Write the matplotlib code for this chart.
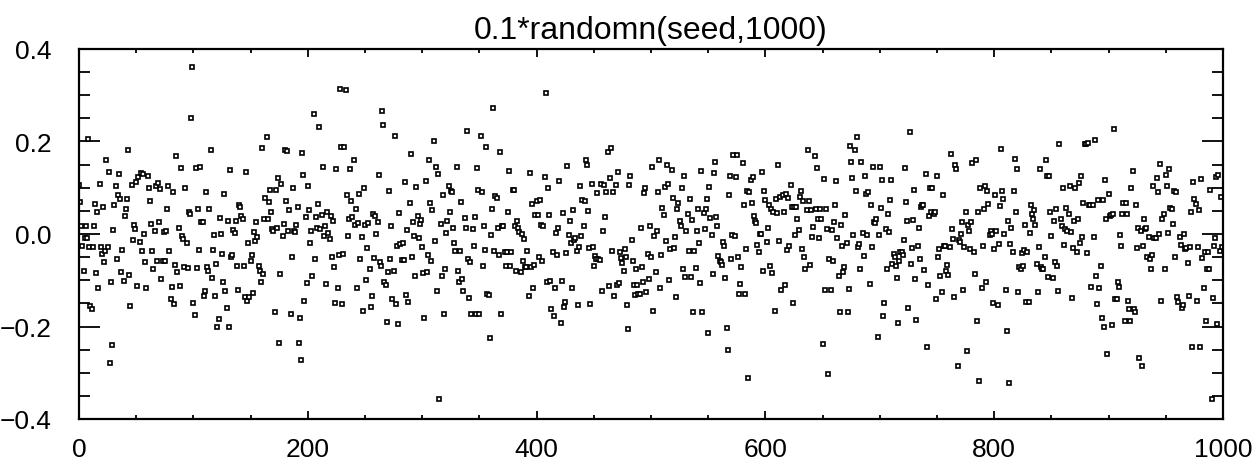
import matplotlib
matplotlib.use("Agg")
import matplotlib.pyplot as plt
import numpy as np
from matplotlib.ticker import MultipleLocator

# values, in order of index (12 strips of the x axis)
seg01 = [0.106, 0.070, 0.018, -0.025, -0.080, -0.009, 0.017, -0.009, 0.206, -0.029,
         -0.155, -0.163, -0.029, 0.017, 0.065, -0.085, 0.047, -0.116, 0.108, -0.029,
         -0.044, 0.058, -0.061, -0.036, 0.159, -0.029, 0.134, -0.279, -0.103, -0.240,
         0.009, 0.062, 0.104, -0.055, 0.084, 0.130, 0.075, -0.083, -0.034, -0.101,
         0.039, 0.053, 0.075, 0.181, -0.088, -0.155, 0.106, -0.014, 0.020, 0.011,
         0.113, -0.112, 0.123, -0.018, 0.131, -0.036, 0.130, 0.001, -0.061, -0.116]
seg02 = [0.126, 0.100, 0.072, 0.022, -0.036, -0.076,
         0.007, 0.104, -0.058, 0.111, 0.027, 0.098, -0.097, -0.058,
         0.005, -0.058, 0.007, 0.053, 0.104, -0.036, -0.141,
         -0.114, 0.090, -0.151, -0.066, 0.168, -0.083, 0.014,
         -0.112, 0.142, -0.004, -0.010, -0.072, 0.100, -0.019, -0.074, 0.047,
         0.043, 0.251, 0.361, -0.150, -0.175, 0.142, -0.073,
         0.054, -0.034, 0.145, 0.027, 0.026, -0.135, -0.124, 0.090,
         -0.072, -0.080, 0.054, 0.182, -0.095, -0.034,
         -0.002, -0.133, -0.065, -0.200, -0.184, 0.034, 0.000, -0.044, -0.103,
         0.086, -0.123, -0.160, 0.029, -0.200, 0.139, -0.050,
         -0.046, 0.009, 0.003, 0.029, -0.069, -0.122, 0.062, 0.058, 0.039, 0.032]
seg03 = [-0.069, -0.137, 0.135, -0.144, -0.019, -0.137, -0.058, -0.045, -0.127, 0.005,
         -0.016, 0.027, -0.007, -0.069, -0.080, -0.103, 0.187, -0.086, 0.032, 0.077,
         0.209, 0.032, 0.070, 0.096, 0.047, 0.011, 0.007, -0.169, 0.096, 0.014,
         0.120, -0.236, -0.086, 0.108, -0.004, 0.022, 0.181, 0.072, 0.179, 0.007,
         0.051, -0.174, -0.050, 0.100, 0.007, 0.005, 0.020, 0.059, -0.236, -0.181,
         -0.272, 0.175, 0.128, -0.144, 0.036, -0.105, 0.104, 0.052, -0.019, 0.006,
         -0.091, 0.260, -0.055, 0.037, 0.012, 0.064, 0.231, 0.011, 0.041, 0.144,
         -0.004, 0.018, -0.108, 0.048, 0.003, -0.010, 0.038, -0.050, 0.029, -0.072,
         -0.150, 0.140, -0.116, -0.046, 0.314, 0.189]
seg04 = [-0.151, -0.044, 0.189, 0.312, 0.084, -0.004, 0.033, 0.140, 0.072, 0.036,
         0.159, 0.020, 0.053, -0.117, 0.024, 0.087, -0.054, -0.006, -0.166, 0.100,
         0.020, -0.099, -0.031, 0.024, -0.076, -0.158, -0.135, 0.043, -0.052, 0.038,
         0.000, 0.027, 0.127, -0.060, -0.069, 0.267, 0.236, -0.103, -0.111, -0.191,
         -0.083, 0.092, -0.054, 0.017, -0.141, -0.080, 0.211, -0.151, -0.027, -0.194,
         0.045, -0.022, -0.056, -0.019, -0.056, 0.113, -0.131, 0.009, -0.148, 0.068,
         0.174, -0.049, 0.026, -0.004, -0.091, 0.102, 0.039, -0.008, 0.022, 0.031,
         -0.029, -0.085, -0.181, 0.114, -0.083, -0.045, 0.159, 0.068, -0.058, 0.051,
         0.201, -0.016, 0.144, -0.124, 0.130, -0.356]
seg05 = [0.022, -0.090, 0.084, -0.173, -0.076, 0.003, 0.029, 0.103, 0.047, 0.094,
         0.090, 0.012, -0.019, -0.036, 0.144, -0.080, -0.103, -0.036, 0.070, -0.097,
         -0.124, 0.034, 0.013, 0.223, -0.054, -0.139, -0.061, -0.172, 0.011, -0.025,
         0.036, -0.172, 0.142, 0.096, -0.173, 0.212, 0.090, -0.069, 0.017, -0.034,
         0.189, -0.130, -0.132, -0.225, -0.003, 0.054, 0.272, -0.036, 0.083, 0.077,
         0.014, -0.046, 0.178, -0.174, 0.017, 0.017, -0.039, -0.069, -0.040, 0.048,
         0.137, -0.069, -0.040, 0.096, 0.095, 0.018, -0.081, 0.029, 0.013, 0.005,
         -0.083, 0.000, -0.058, -0.010, -0.072, -0.072, -0.036, -0.133, 0.132, -0.072,
         0.065, -0.116, -0.067, 0.041, 0.072]
seg06 = [0.041, -0.050, 0.073, 0.020, -0.058, 0.017, 0.123, 0.305, -0.103, 0.099,
         0.041, -0.102, -0.163, -0.040, -0.178, -0.116, 0.003, -0.046, 0.012, 0.114,
         -0.193, -0.101, 0.045, -0.158, -0.148, -0.042, 0.148, -0.003, 0.028, -0.019,
         -0.116, 0.052, -0.013, -0.008, -0.036, -0.153, -0.029, 0.104, -0.004, 0.073,
         0.018, 0.072, 0.160, 0.150, 0.049, -0.030, -0.152, 0.109, -0.029, -0.069,
         -0.048, -0.054, 0.088, -0.055, -0.056, 0.108, -0.124, 0.007, 0.106, 0.036,
         0.090, 0.178, -0.112, 0.120, 0.187, -0.036, 0.090, -0.133, 0.106, -0.111,
         0.135, -0.107, -0.040, -0.052, -0.063, -0.080, -0.033, -0.050, -0.153, -0.206,
         0.106, 0.125, -0.012, -0.058, -0.110, -0.132]
seg07 = [-0.076, -0.111, -0.130, -0.130, 0.014, -0.072, -0.103, 0.089, 0.100, -0.126,
         -0.044, -0.097, 0.017, -0.050, 0.145, -0.166, -0.004, -0.083, 0.007, 0.090,
         0.160, -0.117, -0.046, 0.056, 0.041, 0.102, -0.016, 0.149, 0.109, -0.100,
         -0.033, 0.139, 0.078, -0.030, -0.006, -0.137, 0.054, 0.068, 0.028, 0.018,
         0.100, -0.076, 0.125, -0.094, 0.006, 0.043, -0.037, 0.075, -0.094, 0.030,
         -0.168, -0.037, -0.074, 0.006, 0.054, -0.020, -0.106, 0.137, -0.168, 0.045,
         0.011, 0.053, 0.075, -0.214, 0.102, 0.034, -0.003, -0.086, 0.131, 0.155,
         0.037, 0.018, -0.048, -0.058, -0.060, -0.067, -0.018, -0.025, -0.096, -0.204,
         -0.251, 0.084, 0.125, -0.054, -0.003, 0.171]
seg08 = [-0.004, 0.123, 0.171, -0.050, -0.130, -0.108, -0.072, 0.153, 0.062, -0.130,
         -0.033, 0.092, -0.312, 0.090, 0.117, 0.068, 0.123, 0.039, 0.029, 0.024,
         -0.024, -0.038, 0.001, 0.000, 0.135, -0.081, 0.094, 0.073, -0.018, 0.014,
         0.062, -0.069, 0.054, -0.085, 0.047, -0.167, 0.075, 0.045, 0.149, -0.016,
         0.079, -0.120, 0.085, 0.047, -0.110, 0.087, -0.035, 0.077, -0.027, 0.107,
         0.058, -0.150, 0.059, -0.003, 0.058, 0.032, 0.009, 0.079, 0.094, -0.033,
         0.072, -0.050, -0.075, 0.052, 0.181, 0.072, -0.067, 0.052, -0.007, 0.016,
         0.168, 0.054, 0.142, 0.032, -0.009, 0.054, 0.032, -0.238, 0.119, -0.120,
         0.054, 0.011, -0.302, -0.055, -0.120]
seg09 = [0.009, -0.058, 0.027, 0.062, 0.115, -0.009, -0.091, -0.168, 0.020, -0.027,
         -0.083, -0.071, 0.042, -0.019, -0.169, -0.119, 0.191, 0.155, 0.120, -0.003,
         0.181, 0.092, 0.209, -0.029, -0.022, -0.076, 0.155, 0.002, -0.048, 0.126,
         0.087, -0.003, 0.090, -0.109, 0.063, -0.029, 0.145, 0.027, 0.023, 0.032,
         -0.223, -0.003, 0.145, 0.056, 0.117, -0.177, -0.150, 0.011, -0.076, 0.043,
         0.005, 0.073, 0.117, -0.064, -0.044, -0.050, -0.069, -0.095, -0.192, -0.058,
         -0.040, -0.038, -0.045, -0.014, 0.142, 0.070, 0.029, -0.160, 0.221, -0.065,
         -0.031, 0.031, 0.096, -0.097, -0.186, -0.025, 0.012, -0.054, 0.058, 0.062,
         0.062, -0.078, 0.130, -0.245, -0.110, 0.039]
seg10 = [0.100, 0.047, 0.100, 0.043, 0.047, -0.141, 0.126, -0.050, -0.033, -0.091,
         -0.126, 0.084, -0.025, -0.025, -0.080, -0.066, -0.088, -0.029, 0.172, 0.011,
         -0.010, -0.137, 0.149, 0.140, -0.285, -0.014, -0.018, 0.000, 0.026, -0.121,
         -0.029, 0.047, -0.253, 0.020, 0.007, -0.033, 0.027, 0.153, -0.039, -0.086,
         0.161, -0.189, 0.047, -0.317, 0.100, -0.117, -0.027, 0.054, 0.104, -0.103,
         0.092, 0.064, -0.003, 0.006, 0.000, -0.150, -0.033, 0.084, 0.006, -0.153,
         -0.022, 0.060, 0.184, 0.092, 0.075, 0.000, -0.120, -0.209, 0.029, -0.322,
         -0.022, 0.014, -0.039, 0.092, 0.162, 0.047, 0.140, -0.126, -0.072, -0.076,
         -0.042, -0.070, -0.034, 0.020, -0.148, -0.040]
seg11 = [-0.148, 0.002, 0.062, 0.043, 0.032, 0.051, 0.020, -0.065, -0.126, -0.029,
         0.140, -0.072, -0.076, -0.076, -0.050, 0.159, 0.126, -0.094, 0.125, 0.048,
         -0.004, -0.096, 0.029, -0.060, 0.053, -0.069, -0.124, 0.195, 0.032, 0.017,
         0.100, -0.024, 0.011, 0.056, 0.007, 0.043, 0.104, 0.005, -0.139, -0.030,
         0.029, 0.100, -0.040, 0.032, 0.110, -0.019, 0.126, -0.006, 0.068, 0.195,
         0.195, -0.042, 0.197, 0.062, 0.062, -0.114, 0.062, -0.007, 0.204, -0.090,
         -0.152, 0.073, -0.116, -0.069, -0.182, 0.073, -0.200, 0.117, 0.032, -0.259,
         0.087, 0.039, 0.041, -0.196, 0.043, 0.227, -0.141, -0.141, -0.103, -0.114,
         -0.003, -0.027, 0.043, 0.068, -0.188]
seg12 = [0.068, 0.043, -0.144, -0.162, -0.188, 0.100, 0.136, -0.163, -0.168, 0.063,
         -0.031, 0.012, -0.269, 0.007, -0.286, -0.025, 0.032, 0.011, 0.012, -0.050, -0.007,
         -0.055, -0.076, -0.045, 0.104, -0.009, -0.009, 0.120, 0.090, 0.000, 0.151,
         -0.144, 0.033, 0.043, -0.076, 0.128, 0.104, 0.003, 0.140, 0.056, 0.054,
         0.022, 0.092, -0.050, 0.090, -0.136, -0.148, -0.006, -0.024, -0.161, -0.153,
         0.000, -0.033, -0.030, -0.063, -0.133, -0.029, 0.047, -0.245, 0.113, 0.075,
         0.065, -0.144, -0.029, 0.051, -0.245, 0.119, -0.052, -0.117, -0.040, -0.188,
         -0.076, -0.040, -0.075, 0.095, -0.356, -0.139, -0.025, -0.009, 0.124, -0.194,
         0.128, -0.036, 0.079, -0.029]

y = np.array(seg01 + seg02 + seg03 + seg04 + seg05 + seg06 +
             seg07 + seg08 + seg09 + seg10 + seg11 + seg12)
x = np.arange(len(y))

title = "0.1*randomn(seed,1000)"
xticks = [0, 200, 400, 600, 800, 1000]
yticks = [-0.4, -0.2, 0.0, 0.2, 0.4]

plt.rcParams['font.family'] = ['Liberation Sans', 'DejaVu Sans']

fig = plt.figure(figsize=(12.56, 4.60), dpi=100)
ax = fig.add_axes([79 / 1256, 1 - 420 / 460, (1223 - 79) / 1256, 370 / 460])

ax.plot(x, y, linestyle='none', marker='s', markersize=3.3,
        markerfacecolor='white', markeredgecolor='black', markeredgewidth=1.2)

ax.set_xlim(0, 1000)
ax.set_ylim(-0.4, 0.4)
ax.set_xticks(xticks)
ax.set_xticklabels([str(t) for t in xticks])
ax.set_yticks(yticks)
ax.set_yticklabels(['\u22120.4', '\u22120.2', '0.0', '0.2', '0.4'])
ax.xaxis.set_minor_locator(MultipleLocator(50))
ax.yaxis.set_minor_locator(MultipleLocator(0.05))

ax.tick_params(axis='both', which='both', direction='in', top=True, right=True,
               width=1.3, labelsize=19)
ax.tick_params(axis='x', which='major', length=5.5, pad=13)
ax.tick_params(axis='x', which='minor', length=3)
ax.tick_params(axis='y', which='major', length=15, pad=20)
ax.tick_params(axis='y', which='minor', length=8)
for sp in ax.spines.values():
    sp.set_linewidth(1.6)

ax.set_title(title, fontsize=23, pad=8)

fig.savefig("out.png", dpi=100)
